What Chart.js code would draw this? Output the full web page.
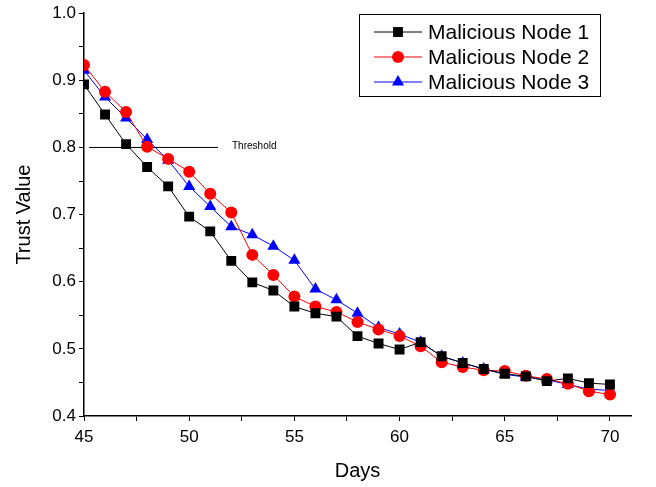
<!DOCTYPE html>
<html>
<head>
<meta charset="utf-8">
<script src="https://cdn.jsdelivr.net/npm/chart.js@4/dist/chart.umd.min.js"></script>
<style>
  html, body { margin: 0; padding: 0; background: #fff; }
</style>
</head>
<body>
<canvas id="chart" width="656" height="487"></canvas>
<script>
"use strict";

// days 45..70
var days = [45, 46, 47, 48, 49, 50, 51, 52, 53, 54, 55, 56, 57, 58, 59, 60, 61, 62, 63, 64, 65, 66, 67, 68, 69, 70];

var node1 = [0.894, 0.849, 0.805, 0.771, 0.742, 0.697, 0.675, 0.631, 0.599, 0.587, 0.563, 0.553, 0.548, 0.519, 0.508, 0.499,
             0.510, 0.489, 0.479, 0.470, 0.463, 0.459, 0.452, 0.456, 0.449, 0.447];
var node2 = [0.923, 0.883, 0.853, 0.801, 0.783, 0.764, 0.731, 0.703, 0.640, 0.610, 0.578, 0.563, 0.555, 0.540, 0.529, 0.519,
             0.504, 0.480, 0.473, 0.468, 0.467, 0.460, 0.455, 0.448, 0.437, 0.432];
var node3 = [0.915, 0.875, 0.844, 0.812, 0.781, 0.742, 0.712, 0.682, 0.670, 0.653, 0.632, 0.589, 0.573, 0.553, 0.532, 0.522,
             0.510, 0.489, 0.479, 0.470, 0.462, 0.458, 0.454, 0.447, 0.440, 0.438];

var seriesNames = ["Malicious Node 1", "Malicious Node 2", "Malicious Node 3"];
var thresholdValue = 0.8;
var thresholdSpan = [45.24, 51.37];
var thresholdLabel = "Threshold";

var FONT = "'Liberation Sans', Arial, sans-serif";

var toPoints = function(ys) {
    return ys.map(function(y, i) { return {x: days[i], y: y}; });
};

var thresholdText = {
    id: "thresholdText",
    afterDatasetsDraw: function(chart) {
        var ctx = chart.ctx;
        var xs = chart.scales.x, ys = chart.scales.y;
        ctx.save();
        ctx.font = "10px " + FONT;
        ctx.fillStyle = "#000";
        ctx.textBaseline = "middle";
        ctx.fillText(thresholdLabel, xs.getPixelForValue(thresholdSpan[1]) + 14, ys.getPixelForValue(thresholdValue) - 1);
        ctx.restore();
    }
};

var boxLegend = {
    id: "boxLegend",
    afterDraw: function(chart) {
        var ctx = chart.ctx;
        var left = 359, top = 14, w = 241, h = 82;
        ctx.save();
        ctx.strokeStyle = "#000";
        ctx.lineWidth = 1;
        ctx.strokeRect(left + 0.5, top + 0.5, w, h);
        ctx.font = "21px " + FONT;
        ctx.textBaseline = "middle";
        for (var i = 0; i < 3; i++) {
            var ds = chart.data.datasets[i];
            var y = top + 18 + i * 25;
            ctx.strokeStyle = ds.borderColor;
            ctx.lineWidth = 1;
            ctx.beginPath();
            ctx.moveTo(left + 15, y);
            ctx.lineTo(left + 63, y);
            ctx.stroke();
            ctx.fillStyle = ds.backgroundColor;
            Chart.helpers.drawPoint(ctx, {pointStyle: ds.pointStyle, radius: ds.pointRadius, borderWidth: 0, rotation: 0}, left + 39, y);
            ctx.fillStyle = "#000";
            ctx.fillText(seriesNames[i], left + 69, y + 1);
        }
        ctx.restore();
    }
};

var isMajor = function(v, step) {
    var r = v / step;
    return Math.abs(r - Math.round(r)) < 1e-6;
};

var ctx = document.getElementById("chart").getContext("2d");
var chart = new Chart(ctx, {
    type: "line",
    data: {
        datasets: [{
            label: seriesNames[0],
            data: toPoints(node1),
            borderColor: "#000000",
            backgroundColor: "#000000",
            borderWidth: 1,
            pointStyle: "rect",
            pointRadius: 7,
            pointBorderWidth: 0
        }, {
            label: seriesNames[1],
            data: toPoints(node2),
            borderColor: "#ff0000",
            backgroundColor: "#ff0000",
            borderWidth: 1,
            pointStyle: "circle",
            pointRadius: 6,
            pointBorderWidth: 0
        }, {
            label: seriesNames[2],
            data: toPoints(node3),
            borderColor: "#0000ff",
            backgroundColor: "#0000ff",
            borderWidth: 1,
            pointStyle: "triangle",
            pointRadius: 7,
            pointBorderWidth: 0
        }, {
            label: thresholdLabel,
            data: [{x: thresholdSpan[0], y: thresholdValue}, {x: thresholdSpan[1], y: thresholdValue}],
            borderColor: "#000000",
            borderWidth: 1,
            pointRadius: 0
        }]
    },
    options: {
        responsive: false,
        animation: false,
        layout: {padding: {top: 12, right: 25, left: 0, bottom: 0}},
        plugins: {
            legend: {display: false},
            tooltip: {enabled: false}
        },
        scales: {
            x: {
                type: "linear",
                min: 45,
                max: 71,
                afterFit: function(scale) { scale.height = 71; },
                border: {color: "#000", width: 1.5},
                grid: {drawOnChartArea: false, tickLength: 5, color: "#000"},
                ticks: {
                    stepSize: 2.5,
                    includeBounds: false,
                    autoSkip: false,
                    maxRotation: 0,
                    padding: 6,
                    color: "#000",
                    font: {family: FONT, size: 17},
                    callback: function(v) { return isMajor(v, 5) ? String(v) : ""; }
                },
                title: {
                    display: true,
                    text: "Days",
                    color: "#000",
                    font: {family: FONT, size: 20},
                    padding: {top: 10}
                }
            },
            y: {
                min: 0.4,
                max: 1.0,
                afterFit: function(scale) { scale.width = 84; },
                border: {color: "#000", width: 1.5},
                grid: {drawOnChartArea: false, tickLength: 5, color: "#000"},
                ticks: {
                    stepSize: 0.05,
                    autoSkip: false,
                    padding: 3,
                    color: "#000",
                    font: {family: FONT, size: 17},
                    callback: function(v) { return isMajor(v, 0.1) ? v.toFixed(1) : ""; }
                },
                title: {
                    display: true,
                    text: "Trust Value",
                    color: "#000",
                    font: {family: FONT, size: 20},
                    padding: {top: 12, bottom: 6}
                }
            }
        }
    },
    plugins: [thresholdText, boxLegend]
});
</script>
</body>
</html>
